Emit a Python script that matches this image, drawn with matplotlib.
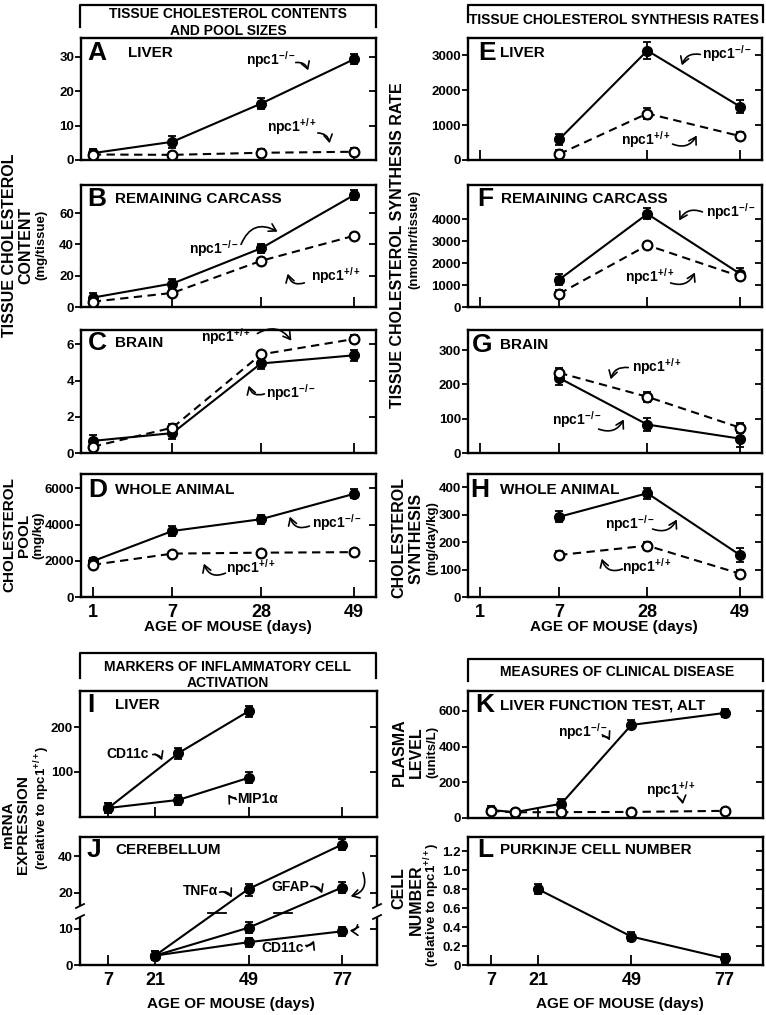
import numpy as np
import matplotlib
matplotlib.use('Agg')
import matplotlib.pyplot as plt
from matplotlib.lines import Line2D
from matplotlib.patches import FancyArrowPatch, Rectangle

plt.rcParams['font.family'] = ['Liberation Sans', 'DejaVu Sans']
plt.rcParams['font.weight'] = 'bold'
plt.rcParams['mathtext.fontset'] = 'custom'
plt.rcParams['mathtext.rm'] = 'Liberation Sans:bold'
plt.rcParams['mathtext.bf'] = 'Liberation Sans:bold'
plt.rcParams['mathtext.it'] = 'Liberation Sans:bold'

# ---- data: tissue cholesterol contents / pool sizes (days 1, 7, 28, 49)
days_top = [1, 7, 28, 49]
xpos_top = [0.04, 0.31, 0.61, 0.925]   # equally labelled category slots

liver_ko = [2.0, 5.3, 16.4, 29.3]
liver_ko_err = [1.2, 1.8, 1.6, 1.5]
liver_wt = [1.6, 1.5, 2.1, 2.4]
liver_wt_err = [0.8, 0.8, 1.2, 1.2]

carcass_ko = [6.0, 15.0, 37.5, 71.5]
carcass_ko_err = [3.0, 3.0, 3.0, 3.0]
carcass_wt = [3.4, 9.0, 29.5, 45.5]
carcass_wt_err = [2.0, 2.0, 2.0, 2.0]

brain_ko = [0.67, 1.1, 4.95, 5.4]
brain_ko_err = [0.3, 0.3, 0.3, 0.3]
brain_wt = [0.35, 1.4, 5.45, 6.3]
brain_wt_err = [0.15, 0.2, 0.2, 0.2]

pool_ko = [1980, 3650, 4300, 5700]
pool_ko_err = [200, 250, 250, 250]
pool_wt = [1780, 2400, 2450, 2480]
pool_wt_err = [150, 100, 100, 150]

# ---- data: synthesis rates (days 7, 28, 49)
days_syn = [7, 28, 49]
syn_liver_ko = [590, 3130, 1530]
syn_liver_ko_err = [150, 240, 180]
syn_liver_wt = [170, 1330, 685]
syn_liver_wt_err = [130, 170, 110]

syn_carcass_ko = [1250, 4250, 1520]
syn_carcass_ko_err = [250, 250, 250]
syn_carcass_wt = [605, 2820, 1400]
syn_carcass_wt_err = [150, 150, 150]

syn_brain_ko = [219, 83, 42]
syn_brain_ko_err = [20, 20, 25]
syn_brain_wt = [234, 164, 74]
syn_brain_wt_err = [15, 15, 15]

syn_whole_ko = [292, 378, 153]
syn_whole_ko_err = [20, 20, 25]
syn_whole_wt = [153, 187, 85]
syn_whole_wt_err = [15, 15, 15]

# ---- data: inflammatory markers
days_bottom = [7, 21, 49, 77]
liver_days = [7, 28, 49]
liver_cd11c = [20, 142, 235]
liver_cd11c_err = [12, 12, 12]
liver_mip1a = [20, 38, 87]
liver_mip1a_err = [12, 12, 12]

cereb_days = [21, 49, 77]
cereb_tnfa = [2.6, 22.0, 46.5]
cereb_tnfa_err = [1.2, 3.0, 3.0]
cereb_gfap = [2.6, 10.3, 22.8]
cereb_gfap_err = [1.2, 1.5, 3.0]
cereb_cd11c = [2.6, 6.3, 9.3]
cereb_cd11c_err = [1.2, 1.2, 1.2]

# ---- data: clinical disease
alt_days = [7, 14, 28, 49, 77]
alt_ko = [45, 32, 80, 521, 588]
alt_ko_err = [20, 20, 25, 25, 25]
alt_wt = [40, 32, 33, 34, 40]
alt_wt_err = [15, 15, 15, 15, 15]

purk_days = [21, 49, 77]
purk_ko = [0.80, 0.30, 0.07]
purk_ko_err = [0.05, 0.05, 0.05]

W, H = 766, 1015
fig = plt.figure(figsize=(W / 100, H / 100), dpi=100)


def P(x, y):
    return x / W, 1 - y / H


def add_ax(l, t, r, b):
    return fig.add_axes([l / W, 1 - b / H, (r - l) / W, (b - t) / H])


def ftext(x, y, s, size, **kw):
    kw.setdefault('ha', 'center')
    kw.setdefault('va', 'center')
    fig.text(x / W, 1 - y / H, s, fontsize=size, fontweight='bold', **kw)


def arrow(x0, y0, x1, y1, rad):
    fig.add_artist(FancyArrowPatch(P(x0, y0), P(x1, y1), transform=fig.transFigure,
                                   connectionstyle=f'arc3,rad={rad}',
                                   arrowstyle='->,head_length=5,head_width=3',
                                   lw=1.2, color='k'))


def bracket(l, r, top, bottom):
    fig.add_artist(Line2D([l / W, l / W, r / W, r / W],
                          [1 - bottom / H, 1 - top / H, 1 - top / H, 1 - bottom / H],
                          transform=fig.transFigure, color='k', lw=1.6))


def frame(ax, ylim, yticks, yticklabels, xlim, xticks, xticklabels=None):
    ax.set_ylim(*ylim)
    ax.set_xlim(*xlim)
    ax.set_yticks(yticks)
    ax.set_yticklabels(yticklabels, fontsize=9.5, fontweight='bold')
    ax.set_xticks(xticks)
    if xticklabels is None:
        ax.set_xticklabels([])
    else:
        ax.set_xticklabels(xticklabels, fontsize=13, fontweight='bold')
    ax.tick_params(axis='y', direction='out', length=4, width=1.3, pad=1)
    ax.tick_params(axis='x', direction='in', length=7, width=1.3, pad=5)
    for s in ax.spines.values():
        s.set_linewidth(1.7)
    # inward ticks on the right edge
    ax.plot(np.ones(len(yticks)), yticks, ls='none', marker=0, ms=5, mew=1.3,
            color='k', transform=ax.get_yaxis_transform(), clip_on=False)


def ko(ax, x, y, e):
    ax.errorbar(x, y, yerr=e, fmt='none', ecolor='k', elinewidth=1.3, capsize=3, capthick=1.3, zorder=3)
    ax.plot(x, y, '-o', color='k', mfc='k', ms=7, lw=1.5, zorder=4)


def wt(ax, x, y, e):
    ax.errorbar(x, y, yerr=e, fmt='none', ecolor='k', elinewidth=1.3, capsize=3, capthick=1.3, zorder=5)
    ax.plot(x, y, color='k', lw=1.5, ls=(0, (4, 2.6)), zorder=5)
    ax.plot(x, y, 'o', mfc='white', mec='k', mew=1.6, ms=7, zorder=6)


KO = r'npc1$^{\mathbf{-/-}}$'
WT = r'npc1$^{\mathbf{+/+}}$'

pos = dict(zip(days_top, xpos_top))
xs4 = [pos[d] for d in days_top]
xs3 = [pos[d] for d in days_syn]

# ---------------- panels A-D
axA = add_ax(81, 38, 376, 160)
frame(axA, (0, 35.5), [0, 10, 20, 30], ['0', '10', '20', '30'], (0, 1), xpos_top)
ko(axA, xs4, liver_ko, liver_ko_err)
wt(axA, xs4, liver_wt, liver_wt_err)

axB = add_ax(81, 185, 376, 307)
frame(axB, (0, 78), [0, 20, 40, 60], ['0', '20', '40', '60'], (0, 1), xpos_top)
ko(axB, xs4, carcass_ko, carcass_ko_err)
wt(axB, xs4, carcass_wt, carcass_wt_err)

axC = add_ax(81, 330, 376, 453)
frame(axC, (0, 6.8), [0, 2, 4, 6], ['0', '2', '4', '6'], (0, 1), xpos_top)
ko(axC, xs4, brain_ko, brain_ko_err)
wt(axC, xs4, brain_wt, brain_wt_err)

axD = add_ax(81, 474, 376, 597)
frame(axD, (0, 6800), [0, 2000, 4000, 6000], ['0', '2000', '4000', '6000'], (0, 1), xpos_top,
      [str(d) for d in days_top])
ko(axD, xs4, pool_ko, pool_ko_err)
wt(axD, xs4, pool_wt, pool_wt_err)

# ---------------- panels E-H
axE = add_ax(468, 38, 762, 160)
frame(axE, (0, 3490), [0, 1000, 2000, 3000], ['0', '1000', '2000', '3000'], (0, 1), xpos_top)
ko(axE, xs3, syn_liver_ko, syn_liver_ko_err)
wt(axE, xs3, syn_liver_wt, syn_liver_wt_err)

axF = add_ax(468, 185, 762, 307)
frame(axF, (0, 5570), [0, 1000, 2000, 3000, 4000], ['0', '1000', '2000', '3000', '4000'], (0, 1), xpos_top)
ko(axF, xs3, syn_carcass_ko, syn_carcass_ko_err)
wt(axF, xs3, syn_carcass_wt, syn_carcass_wt_err)

axG = add_ax(468, 330, 762, 453)
frame(axG, (0, 359), [0, 100, 200, 300], ['0', '100', '200', '300'], (0, 1), xpos_top)
ko(axG, xs3, syn_brain_ko, syn_brain_ko_err)
wt(axG, xs3, syn_brain_wt, syn_brain_wt_err)

axH = add_ax(468, 474, 762, 597)
frame(axH, (0, 448), [0, 100, 200, 300, 400], ['0', '100', '200', '300', '400'], (0, 1), xpos_top,
      [str(d) for d in days_top])
ko(axH, xs3, syn_whole_ko, syn_whole_ko_err)
wt(axH, xs3, syn_whole_wt, syn_whole_wt_err)

# ---------------- panels I-J
axI = add_ax(80, 691, 377, 817)
frame(axI, (0, 280), [100, 200], ['100', '200'], (-1.5, 87.5), days_bottom)
ko(axI, liver_days, liver_cd11c, liver_cd11c_err)
ko(axI, liver_days, liver_mip1a, liver_mip1a_err)


def fwd(y):
    y = np.asarray(y, dtype=float)
    return np.where(y <= 20, y, 10 + y / 2)


def inv(u):
    u = np.asarray(u, dtype=float)
    return np.where(u <= 20, u, 2 * (u - 10))


axJ = add_ax(80, 837, 377, 965)
axJ.set_yscale('function', functions=(fwd, inv))
frame(axJ, (0, 50.7), [0, 10, 20, 40], ['0', '10', '20', '40'], (-1.5, 87.5), days_bottom,
      [str(d) for d in days_bottom])
ko(axJ, cereb_days, cereb_tnfa, cereb_tnfa_err)
ko(axJ, cereb_days, cereb_gfap, cereb_gfap_err)
ko(axJ, cereb_days, cereb_cd11c, cereb_cd11c_err)

# axis break marks
for sx in (80, 377):
    fig.add_artist(Rectangle(P(sx - 5, 917), 10 / W, 11 / H, transform=fig.transFigure,
                             facecolor='white', edgecolor='none', zorder=10))
    for yy in (906, 917):
        fig.add_artist(Line2D([(sx - 4) / W, (sx + 4) / W], [1 - (yy + 2) / H, 1 - (yy - 2) / H],
                              transform=fig.transFigure, color='k', lw=1.3, zorder=11))
for bx in (217, 283):
    fig.add_artist(Line2D([(bx - 9) / W, (bx + 9) / W], [1 - 913 / H, 1 - 913 / H],
                          transform=fig.transFigure, color='k', lw=1.3, zorder=11))

# ---------------- panels K-L
axK = add_ax(468, 691, 763, 818)
frame(axK, (0, 711), [0, 200, 400, 600], ['0', '200', '400', '600'], (0, 88.5), days_bottom)
ko(axK, alt_days, alt_ko, alt_ko_err)
wt(axK, alt_days, alt_wt, alt_wt_err)

axL = add_ax(468, 837, 763, 965)
frame(axL, (0, 1.35), [0, 0.2, 0.4, 0.6, 0.8, 1.0, 1.2],
      ['0', '0.2', '0.4', '0.6', '0.8', '1.0', '1.2'], (0, 88.5), days_bottom,
      [str(d) for d in days_bottom])
ko(axL, purk_days, purk_ko, purk_ko_err)

# ---------------- panel letters and titles
panel_heads = [
    ('A', 87, 53, 'LIVER', 128), ('B', 87, 199, 'REMAINING CARCASS', 115),
    ('C', 88, 343, 'BRAIN', 115), ('D', 88, 490, 'WHOLE ANIMAL', 115),
    ('E', 478, 53, 'LIVER', 500), ('F', 477, 199, 'REMAINING CARCASS', 501),
    ('G', 472, 345, 'BRAIN', 500), ('H', 470, 490, 'WHOLE ANIMAL', 500),
    ('I', 87, 705, 'LIVER', 115), ('J', 87, 850, 'CEREBELLUM', 115),
    ('K', 475, 705, 'LIVER FUNCTION TEST, ALT', 500), ('L', 477, 850, 'PURKINJE CELL NUMBER', 500),
]
for letter, lx, ly, title, tx in panel_heads:
    ftext(lx, ly, letter, 19, ha='left')
    ftext(tx, ly, title, 11, ha='left')

# ---------------- section headers
bracket(80, 376, 5, 27)
ftext(228, 14, 'TISSUE CHOLESTEROL CONTENTS', 10)
ftext(228, 31, 'AND POOL SIZES', 10)
bracket(468, 763, 5, 22)
ftext(614, 20, 'TISSUE CHOLESTEROL SYNTHESIS RATES', 10)
bracket(80, 376, 653, 678)
ftext(228, 667, 'MARKERS OF INFLAMMATORY CELL', 10)
ftext(228, 683, 'ACTIVATION', 10)
bracket(468, 763, 659, 681)
ftext(617, 672, 'MEASURES OF CLINICAL DISEASE', 10)

# ---------------- axis titles
ftext(10, 245, 'TISSUE CHOLESTEROL', 11.5, rotation=90)
ftext(26, 245, 'CONTENT', 11.5, rotation=90)
ftext(41, 245, '(mg/tissue)', 9.5, rotation=90)
ftext(9, 535, 'CHOLESTEROL', 11, rotation=90)
ftext(24, 535, 'POOL', 11, rotation=90)
ftext(38, 535, '(mg/kg)', 9.5, rotation=90)

ftext(397, 245, 'TISSUE CHOLESTEROL SYNTHESIS RATE', 11.5, rotation=90)
ftext(414, 240, '(nmol/hr/tissue)', 9.5, rotation=90)
ftext(399, 538, 'CHOLESTEROL', 11.5, rotation=90)
ftext(416, 538, 'SYNTHESIS', 11.5, rotation=90)
ftext(432, 538, '(mg/day/kg)', 9.5, rotation=90)

ftext(8, 825, 'mRNA', 11, rotation=90)
ftext(23, 825, 'EXPRESSION', 11, rotation=90)
ftext(42, 808, r'(relative to npc1$^{\mathbf{+/+}}$)', 9.5, rotation=90)
ftext(399, 752, 'PLASMA', 11.5, rotation=90)
ftext(416, 752, 'LEVEL', 11.5, rotation=90)
ftext(432, 752, '(units/L)', 9.5, rotation=90)
ftext(399, 888, 'CELL', 11.5, rotation=90)
ftext(416, 900, 'NUMBER', 11.5, rotation=90)
ftext(432, 905, r'(relative to npc1$^{\mathbf{+/+}}$)', 9.5, rotation=90)

ftext(228, 627, 'AGE OF MOUSE (days)', 11)
ftext(614, 627, 'AGE OF MOUSE (days)', 11)
ftext(231, 1004, 'AGE OF MOUSE (days)', 11)
ftext(620, 1004, 'AGE OF MOUSE (days)', 11)

# ---------------- curve labels with arrows
notes = [
    (KO, 271, 60, 293, 63, 309, 73, -0.5), (WT, 292, 127, 315, 133, 330, 146, -0.5),
    (KO, 214, 249, 240, 247, 280, 233, -0.6), (WT, 336, 276, 307, 282, 287, 271, -0.6),
    (WT, 226, 337, 255, 335, 293, 343, -0.5), (KO, 291, 393, 267, 393, 248, 383, -0.6),
    (KO, 337, 523, 312, 525, 289, 514, -0.6), (WT, 251, 568, 228, 572, 203, 561, -0.6),
    (KO, 727, 54, 703, 55, 681, 68, 0.5), (WT, 646, 140, 670, 143, 698, 133, 0.5),
    (KO, 731, 212, 705, 213, 678, 223, 0.5), (WT, 650, 277, 668, 282, 696, 270, 0.5),
    (WT, 657, 367, 631, 368, 610, 382, 0.5), (KO, 577, 420, 596, 428, 625, 417, 0.5),
    (KO, 630, 524, 650, 528, 678, 517, 0.5), (WT, 647, 567, 625, 568, 601, 556, -0.6),
    ('CD11c', 128, 754, 150, 755, 163, 763, -0.5), ('MIP1α', 258, 799, 238, 797, 227, 792, -0.5),
    ('TNFα', 201, 891, 217, 893, 233, 900, -0.5), ('GFAP', 290, 887, 308, 887, 323, 896, -0.5),
    ('CD11c', 283, 948, 303, 945, 315, 938, 0.5),
    (KO, 583, 732, 600, 737, 611, 743, -0.5), (WT, 671, 790, 676, 797, 683, 807, -0.4),
]
for s, tx, ty, x0, y0, x1, y1, rad in notes:
    ftext(tx, ty, s, 10)
    arrow(x0, y0, x1, y1, rad)
arrow(362, 870, 348, 897, -0.6)
arrow(358, 922, 347, 930, -0.6)

fig.savefig('out.png', dpi=100)
